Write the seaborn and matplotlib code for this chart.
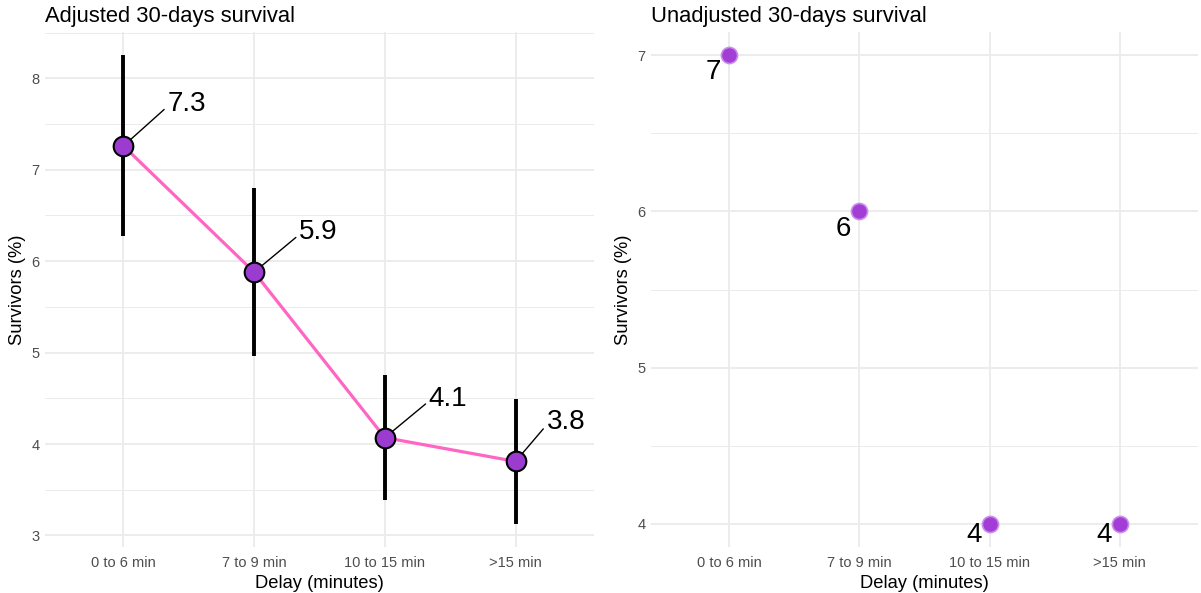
import numpy as np
import pandas as pd
import matplotlib
matplotlib.use("Agg")
import matplotlib.pyplot as plt
import seaborn as sns
from matplotlib.ticker import MultipleLocator

# Delay groups and survival estimates
delay_groups = ["0 to 6 min", "7 to 9 min", "10 to 15 min", ">15 min"]
adjusted = [7.26, 5.88, 4.07, 3.81]
adjusted_lower = [6.27, 4.96, 3.39, 3.13]
adjusted_upper = [8.25, 6.80, 4.76, 4.49]
unadjusted = [7, 6, 4, 4]

df = pd.DataFrame({
    "delay": delay_groups,
    "pos": np.arange(len(delay_groups)),
    "adjusted": adjusted,
    "lower": adjusted_lower,
    "upper": adjusted_upper,
    "unadjusted": unadjusted,
})

sns.set_theme(style="whitegrid")
plt.rcParams["font.family"] = ["Liberation Sans", "DejaVu Sans"]

W, H = 1201, 593
fig = plt.figure(figsize=(W / 100, H / 100), dpi=100)
ax1 = fig.add_axes([45 / W, 1 - 547 / H, 549 / W, 515 / H])
ax2 = fig.add_axes([651 / W, 1 - 547 / H, 547 / W, 515 / H])

GRID = "#EBEBEB"
TICK_COL = "#4D4D4D"


def style_axes(ax, lo, hi, title):
    ax.set_facecolor("white")
    for s in ax.spines.values():
        s.set_visible(False)
    ax.set_xlim(-0.6, len(delay_groups) - 1 + 0.6)
    pad = 0.05 * (hi - lo)
    ax.set_ylim(lo - pad, hi + pad)
    ax.set_xticks(df["pos"])
    ax.set_xticklabels(delay_groups)
    ax.yaxis.set_major_locator(MultipleLocator(1))
    ax.yaxis.set_minor_locator(MultipleLocator(0.5))
    ax.grid(which="major", axis="both", color=GRID, linewidth=1.3)
    ax.grid(which="minor", axis="y", color=GRID, linewidth=0.7)
    ax.grid(which="minor", axis="x", visible=False)
    ax.tick_params(axis="both", which="both", length=0, labelsize=10.5,
                   labelcolor=TICK_COL)
    ax.tick_params(axis="x", pad=6.5)
    ax.tick_params(axis="y", pad=4)
    ax.set_title(title, loc="left", fontsize=15.8, color="black", pad=7)
    ax.set_axisbelow(True)


# Left panel: adjusted estimates with intervals
style_axes(ax1, min(adjusted_lower), max(adjusted_upper),
           "Adjusted 30-days survival")
ax1.vlines(df["pos"], df["lower"], df["upper"], color="black",
           linewidth=2.8, zorder=2)
sns.lineplot(data=df, x="pos", y="adjusted", ax=ax1, color="#FF66C4",
             linewidth=2.3, zorder=3, sort=False)
sns.scatterplot(data=df, x="pos", y="adjusted", ax=ax1, s=200,
                color="#9B3BCF", edgecolor="black", linewidth=1.5,
                zorder=5, legend=False)
left_offsets = [(44, 42), (45, 40), (44, 39), (31, 39)]
for (x, v), (dx, dy) in zip(zip(df["pos"], df["adjusted"]), left_offsets):
    ax1.annotate(f"{v:.1f}", xy=(x, v), xytext=(dx, dy),
                 textcoords="offset pixels", ha="left", va="center",
                 fontsize=20, color="black", zorder=4,
                 arrowprops=dict(arrowstyle="-", color="black", lw=1.0,
                                 shrinkA=0, shrinkB=1, relpos=(0, 0.4)))
ax1.set_xlabel("Delay (minutes)", fontsize=13.2, color="black", labelpad=3.5)
ax1.set_ylabel("Survivors (%)", fontsize=13.2, color="black", labelpad=4)

# Right panel: unadjusted estimates
style_axes(ax2, min(unadjusted), max(unadjusted),
           "Unadjusted 30-days survival")
sns.scatterplot(data=df, x="pos", y="unadjusted", ax=ax2, s=135,
                color="#A23ED6", edgecolor="#C98FE8", linewidth=1.2,
                zorder=5, legend=False)
right_offsets = [(-8, -17), (-8, -18), (-8, -11), (-8, -11)]
for (x, v), (dx, dy) in zip(zip(df["pos"], df["unadjusted"]), right_offsets):
    ax2.annotate(f"{v:d}", xy=(x, v), xytext=(dx, dy),
                 textcoords="offset pixels", ha="right", va="center",
                 fontsize=20, color="black", zorder=4)
ax2.set_xlabel("Delay (minutes)", fontsize=13.2, color="black", labelpad=3.5)
ax2.set_ylabel("Survivors (%)", fontsize=13.2, color="black", labelpad=4)

fig.savefig("out.png", dpi=100, facecolor="white")
